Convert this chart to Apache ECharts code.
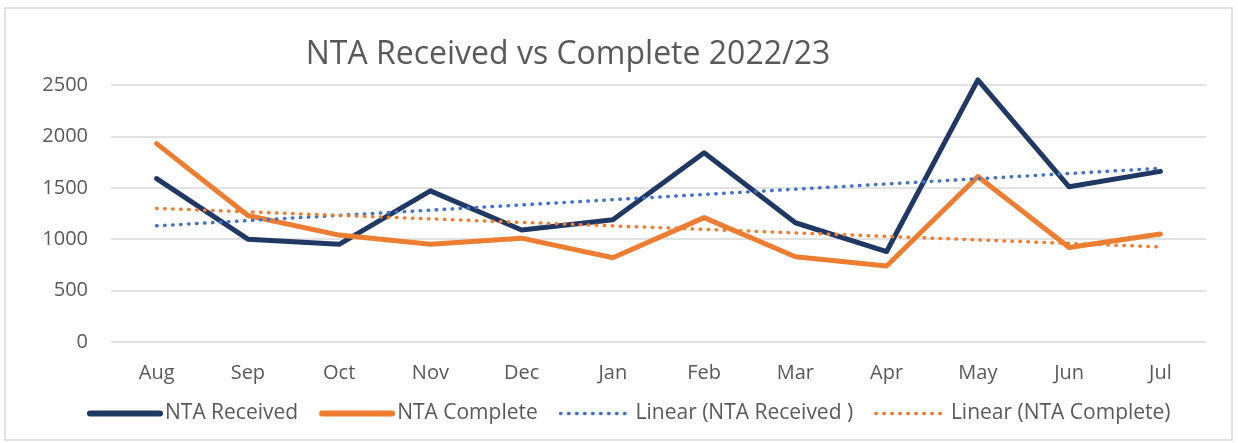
<!DOCTYPE html>
<html>
<head>
<meta charset="utf-8">
<script src="https://cdn.jsdelivr.net/npm/echarts@6/dist/echarts.min.js"></script>
<style>
    html, body { margin: 0; padding: 0; background: #fff; }
    #main { width: 1238px; height: 443px; }
</style>
</head>
<body>
<div id="main"></div>
<script>
// data
var months = ["Aug", "Sep", "Oct", "Nov", "Dec", "Jan", "Feb", "Mar", "Apr", "May", "Jun", "Jul"];
var received = [1590, 1000, 950, 1470, 1090, 1190, 1840, 1160, 880, 2550, 1510, 1660];
var complete = [1930, 1230, 1040, 950, 1010, 820, 1210, 830, 740, 1610, 920, 1050];
// trend line end points (Aug, Jul)
var receivedTrend = [1130, 1690];
var completeTrend = [1300, 925];

function trendData(ends) {
    var d = [];
    for (var i = 0; i < months.length; i++) d.push(null);
    d[0] = ends[0];
    d[months.length - 1] = ends[1];
    return d;
}

var chart = echarts.init(document.getElementById('main'));
var font = '"Open Sans", "Noto Sans", sans-serif';
var grey = '#595959';

var option = {
    animation: false,
    graphic: [{
        type: 'rect',
        shape: { x: 5, y: 8, width: 1227, height: 432 },
        style: { fill: 'none', stroke: '#d9d9d9', lineWidth: 1.5 },
        silent: true
    }],
    title: {
        text: 'NTA Received vs Complete 2022/23',
        left: 563,
        top: 34,
        textAlign: 'center',
        textStyle: { fontFamily: font, fontSize: 32, fontWeight: 'normal', color: grey }
    },
    legend: {
        top: 398,
        left: 82,
        itemWidth: 70,
        itemHeight: 14,
        itemGap: 21,
        itemStyle: { opacity: 0 },
        textStyle: { fontFamily: font, fontSize: 21, color: grey },
        data: [
            { name: 'NTA Received', lineStyle: { width: 6, cap: 'round' } },
            { name: 'NTA Complete', lineStyle: { width: 6, cap: 'round' } },
            { name: 'Linear (NTA Received )', lineStyle: { width: 3.5, cap: 'round' } },
            { name: 'Linear (NTA Complete)', lineStyle: { width: 3.5, cap: 'round' } }
        ]
    },
    grid: { left: 111, right: 32, top: 85, bottom: 101 },
    xAxis: {
        type: 'category',
        data: months,
        boundaryGap: true,
        axisLine: { show: false },
        axisTick: { show: false },
        axisLabel: { fontFamily: font, fontSize: 20, color: grey, margin: 21 }
    },
    yAxis: {
        type: 'value',
        min: 0,
        max: 2500,
        interval: 500,
        axisLabel: {
            fontFamily: font, fontSize: 20, color: grey, margin: 23,
            formatter: function (v) { return String(v); }
        },
        splitLine: { lineStyle: { color: '#d9d9d9', width: 1.5 } }
    },
    series: [{
        name: 'NTA Received',
        type: 'line',
        data: received,
        symbol: 'none',
        clip: false,
        lineStyle: { color: '#203864', width: 5, cap: 'round', join: 'round' },
        itemStyle: { color: '#203864' }
    }, {
        name: 'NTA Complete',
        type: 'line',
        data: complete,
        symbol: 'none',
        clip: false,
        lineStyle: { color: '#ED7D31', width: 5, cap: 'round', join: 'round' },
        itemStyle: { color: '#ED7D31' }
    }, {
        name: 'Linear (NTA Received )',
        type: 'line',
        data: trendData(receivedTrend),
        connectNulls: true,
        symbol: 'none',
        lineStyle: { color: '#4472C4', width: 3.5, type: [0.5, 7.5], cap: 'round' },
        itemStyle: { color: '#4472C4' }
    }, {
        name: 'Linear (NTA Complete)',
        type: 'line',
        data: trendData(completeTrend),
        connectNulls: true,
        symbol: 'none',
        lineStyle: { color: '#ED7D31', width: 3.5, type: [0.5, 7.5], cap: 'round' },
        itemStyle: { color: '#ED7D31' }
    }]
};

chart.setOption(option);
</script>
</body>
</html>
